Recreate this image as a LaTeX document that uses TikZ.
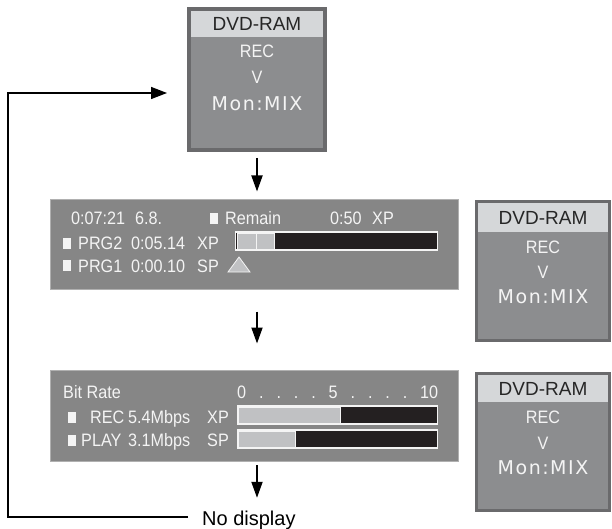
\documentclass[tikz,border=0pt]{standalone}
\usepackage{fontspec}
\setmainfont{Liberation Sans}[FakeStretch=0.9]
\newfontfamily\hdfont{Liberation Sans}
\newfontfamily\monfont{DejaVu Sans}[LetterSpace=8]
\usepackage{tikz}
\usetikzlibrary{positioning,arrows.meta}
\definecolor{cbox}{RGB}{140,141,143}
\definecolor{cedge}{RGB}{106,106,108}
\definecolor{chead}{RGB}{213,215,217}
\definecolor{cpanel}{RGB}{134,134,134}
\definecolor{cbar}{RGB}{192,193,195}
\definecolor{cdark}{RGB}{36,32,33}
\definecolor{ctext}{RGB}{244,244,244}

\begin{document}
\begin{tikzpicture}[x=1pt,y=-1pt,
  font=\fontsize{18}{20}\selectfont,
  dvd/.style={rectangle,draw=cedge,fill=cbox,line width=4pt,inner sep=0},
  hd/.style={rectangle,fill=chead,text=black!85,inner sep=0,font=\hdfont\fontsize{19}{21}\selectfont},
  wt/.style={text=ctext,inner sep=0,text height=12pt,text depth=1pt,font=\fontsize{18}{20}\selectfont},
  mon/.style={wt,font=\monfont\fontsize{19}{21}\selectfont},
  pnl/.style={rectangle,draw=gray!62,fill=cpanel,line width=1pt,inner sep=0,minimum width=408pt},
  lb/.style={text=ctext,inner sep=0,anchor=base west},
  sq/.style={rectangle,fill=ctext,inner sep=0,minimum width=8pt,minimum height=11pt},
  bar/.style={rectangle,draw=ctext,fill=cdark,line width=1.2pt,inner sep=0,minimum height=18pt,anchor=west},
  lt/.style={rectangle,draw=ctext,fill=cbar,line width=0.6pt,inner sep=0,minimum height=16pt,anchor=west},
  a/.style={-{Triangle[length=16pt,width=11pt]},line width=1.8pt},
  fb/.style={-{Triangle[length=16pt,width=12pt]},line width=1.4pt},
]
\useasboundingbox (0,0) rectangle (612,529);
% --- top box ---
\node[dvd,minimum width=136pt,minimum height=141pt] (topbox) at (257,79.5) {};
\node[hd,minimum width=132pt,minimum height=26pt,anchor=north] (tophd) at ([yshift=-4pt]topbox.north) {DVD-RAM};
\node[wt,below=8pt of tophd] (toprec) {REC};
\node[wt,below=13pt of toprec] (topv) {V};
\node[mon,below=13pt of topv] (topmon) {Mon:MIX};
% --- remain panel ---
\node[pnl,minimum height=89pt] (mid) at (254,244.5) {};
\node[lb] (mtime) at (71,225) {0:07:21};
\node[lb] (mnum) at (135,225) {6.8.};
\node[sq] (msq) at (213.5,218.5) {};
\node[lb] (mrem) at (225,225) {Remain};
\node[lb] (mrt) at (330,225) {0:50};
\node[lb] (mxp) at (372,225) {XP};
\node[sq] (p2sq) at (67,243) {};
\node[lb] (p2) at (78,249.5) {PRG2};
\node[lb] (p2t) at (131,249.5) {0:05.14};
\node[lb] (p2m) at (197,249.5) {XP};
\node[bar,minimum width=202pt] (pbar) at (235,241) {};
\node[lt,minimum width=19pt] (pc1) at ([xshift=1.5pt]pbar.west) {};
\node[lt,minimum width=18pt,right=0pt of pc1] (pc2) {};
\node[sq] (p1sq) at (67,265.5) {};
\node[lb] (p1) at (78,272) {PRG1};
\node[lb] (p1t) at (131,272) {0:00.10};
\node[lb] (p1m) at (197,272) {SP};
\draw[fill=cbar,draw=ctext,line width=0.8pt] (228,272) -- (250,272) -- (239,257) -- cycle;
% --- bit rate panel ---
\node[pnl,minimum height=91pt] (bot) at (254,415.5) {};
\node[lb] (brate) at (63,398.5) {Bit Rate};
\node[lb,text width=201pt] (bscale) at (237,398.5) {0\hfill.\hfill.\hfill.\hfill.\hfill5\hfill.\hfill.\hfill.\hfill.\hfill10};
\node[sq] (rsq) at (72,417) {};
\node[lb] (rrec) at (90,423.5) {REC};
\node[lb] (rrate) at (128,423.5) {5.4Mbps};
\node[lb] (rmode) at (207,423.5) {XP};
\node[bar,minimum width=200pt] (rbar) at (237,415) {};
\node[lt,minimum width=102pt] (rlt) at ([xshift=1pt]rbar.west) {};
\node[sq] (psq) at (72,440) {};
\node[lb] (pplay) at (81,446.5) {PLAY};
\node[lb] (prate) at (128,446.5) {3.1Mbps};
\node[lb] (pmode) at (207,446.5) {SP};
\node[bar,minimum width=200pt] (plbar) at (237,439) {};
\node[lt,minimum width=57pt] (plt) at ([xshift=1pt]plbar.west) {};
% --- side boxes ---
\node[dvd,line width=3pt,minimum width=133pt,minimum height=139pt] (rbox1) at (543,271) {};
\node[hd,minimum width=130pt,minimum height=29pt,anchor=north] (rhd1) at ([yshift=-3pt]rbox1.north) {DVD-RAM};
\node[wt,below=8.5pt of rhd1] (rrec1) {REC};
\node[wt,below=12pt of rrec1] (rv1) {V};
\node[mon,below=12pt of rv1] (rmon1) {Mon:MIX};
\node[dvd,line width=3pt,minimum width=133pt,minimum height=137pt] (rbox2) at (543,442) {};
\node[hd,minimum width=130pt,minimum height=27pt,anchor=north] (rhd2) at ([yshift=-3pt]rbox2.north) {DVD-RAM};
\node[wt,below=9pt of rhd2] (rrec2) {REC};
\node[wt,below=12pt of rrec2] (rv2) {V};
\node[mon,below=12pt of rv2] (rmon2) {Mon:MIX};
% --- flow ---
\node[inner sep=0,anchor=west,text height=16pt,text depth=0pt,font=\hdfont\fontsize{20}{22}\selectfont] (nodisp) at (202,517) {No display};
\draw[a,shorten <=6pt,shorten >=8pt] (topbox.south) -- (topbox.south |- mid.north);
\draw[a,shorten <=22pt,shorten >=26pt] (topbox.south |- mid.south) -- (topbox.south |- bot.north);
\draw[a,shorten <=3.5pt,shorten >=11pt] (topbox.south |- bot.south) -- (topbox.south |- nodisp.north);
\coordinate (fbc) at (8,517);
\coordinate (fbe) at (167,93);
\draw[fb,shorten <=14pt] (nodisp.west) -- (fbc) |- (fbe);
\end{tikzpicture}
\end{document}
